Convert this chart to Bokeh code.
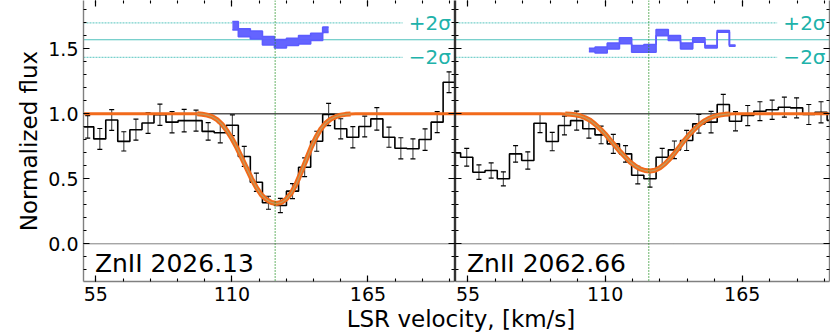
import numpy as np
from bokeh.plotting import figure
from bokeh.models import (ColumnDataSource, Span, Whisker, TeeHead, LinearAxis,
                          SingleIntervalTicker, Div, Range1d, NumeralTickFormatter)
from bokeh.layouts import row, column
from bokeh.core.properties import value
from bokeh.embed import file_html
from bokeh.resources import INLINE

FONT = "DejaVu Sans"

# ---------------- data ----------------
# Panel A : ZnII 2026.13  (bin centres, normalized flux, 1-sigma errors)
vel_a = [46.8, 51.7, 56.6, 61.4, 66.3, 71.2, 76.1, 80.9, 85.8, 90.7, 95.5,
         100.4, 105.3, 110.2, 115.0, 119.9, 124.8, 129.6, 134.5, 139.4, 144.3,
         149.1, 154.0, 158.9, 163.7, 168.6, 173.5, 178.3, 183.2, 188.1, 193.0,
         197.8, 202.7]
flux_a = [0.88, 0.90, 0.807, 0.952, 0.788, 0.878, 0.93, 0.993, 0.936, 0.948, 0.948,
          0.865, 0.854, 0.912, 0.672, 0.474, 0.316, 0.295, 0.405, 0.589, 0.789,
          0.995, 0.885, 0.820, 0.902, 0.961, 0.820, 0.735, 0.731, 0.802, 0.936,
          1.243, 1.24]
err_a = [0.08, 0.087, 0.08, 0.08, 0.074, 0.081, 0.08, 0.082, 0.082, 0.087, 0.081,
         0.068, 0.077, 0.08, 0.077, 0.07, 0.05, 0.055, 0.058, 0.072, 0.077,
         0.086, 0.077, 0.082, 0.08, 0.087, 0.077, 0.081, 0.077, 0.083, 0.081,
         0.08, 0.08]

# Panel B : ZnII 2062.66
vel_b = [49.6, 54.5, 59.4, 64.3, 69.2, 74.1, 79.0, 83.9, 88.8, 93.7, 98.6,
         103.5, 108.4, 113.3, 118.2, 123.1, 128.0, 132.9, 137.8, 142.7, 147.6,
         152.5, 157.4, 162.3, 167.2, 172.1, 177.0, 181.9, 186.8, 191.7, 196.6,
         201.5]
flux_b = [0.70, 0.666, 0.551, 0.564, 0.50, 0.692, 0.641, 0.928, 0.787, 0.91, 0.948,
          0.885, 0.838, 0.769, 0.692, 0.528, 0.50, 0.666, 0.723, 0.795, 0.923,
          0.936, 1.072, 0.943, 0.987, 1.02, 1.031, 1.051, 1.046, 0.995, 1.012,
          0.95]
err_b = [0.07, 0.069, 0.056, 0.058, 0.054, 0.064, 0.067, 0.073, 0.071, 0.072, 0.073,
         0.072, 0.068, 0.073, 0.064, 0.067, 0.064, 0.068, 0.068, 0.077, 0.072,
         0.083, 0.077, 0.074, 0.077, 0.073, 0.074, 0.077, 0.077, 0.077, 0.081,
         0.08]

# Fitted model profiles
mod_v_a = [50, 94, 96, 98, 100, 102, 104, 106, 108, 110, 112, 114, 116, 118, 120,
           122, 124, 126, 128, 130, 132, 134, 136, 138, 140, 142, 144, 146, 148,
           150, 152, 154, 156, 158, 160, 162, 200]
mod_f_a = [1.0, 1.0, 1.0, 0.997, 0.99, 0.978, 0.955, 0.92, 0.87, 0.81, 0.74, 0.66,
           0.58, 0.50, 0.43, 0.375, 0.34, 0.318, 0.31, 0.318, 0.345, 0.39, 0.46,
           0.55, 0.645, 0.74, 0.82, 0.885, 0.93, 0.96, 0.978, 0.99, 0.996, 0.999,
           1.0, 1.0, 1.0]
mod_v_b = [50, 92, 94, 96, 98, 100, 102, 104, 106, 108, 110, 112, 114, 116, 118,
           120, 122, 124, 126, 128, 130, 132, 134, 136, 138, 140, 142, 144, 146,
           148, 150, 152, 154, 156, 158, 160, 162, 164, 200]
mod_f_b = [1.0, 1.0, 0.999, 0.997, 0.993, 0.985, 0.97, 0.95, 0.92, 0.885, 0.845,
           0.80, 0.755, 0.71, 0.67, 0.63, 0.60, 0.577, 0.564, 0.56, 0.566, 0.585,
           0.615, 0.655, 0.70, 0.75, 0.80, 0.845, 0.885, 0.92, 0.948, 0.968,
           0.982, 0.991, 0.996, 0.999, 1.0, 1.0, 1.0]

# Residuals (shown offset around RES_ZERO)
res_v_a = [110.2, 115.0, 119.9, 124.8, 129.6, 134.5, 139.4, 144.3, 149.1]
res_a = [1.678, 1.624, 1.606, 1.562, 1.539, 1.554, 1.570, 1.592, 1.647]
res_w_a = [0.032, 0.03, 0.03, 0.032, 0.032, 0.028, 0.032, 0.028, 0.02]
res_v_b = [103.5, 108.4, 113.3, 118.2, 123.1, 128.0, 132.9, 137.8, 142.7, 147.6,
           152.5, 157.4, 162.3]
res_b = [1.492, 1.491, 1.522, 1.562, 1.500, 1.504, 1.625, 1.583, 1.522, 1.568,
         1.516, 1.635, 1.525]
res_w_b = [0.013, 0.022, 0.022, 0.023, 0.026, 0.03, 0.023, 0.019, 0.022, 0.017,
           0.009, 0.006, 0.005]

RES_ZERO = 1.57
RES_PLUS = 1.70
RES_MINUS = 1.435
SIG_LINE_END = 179.0
SIG_TEXT_X = 181.5
V_SYS = 127.5
X_RANGE = (50, 200)
Y_RANGE = (-0.29, 1.872)
labels = ["ZnII 2026.13", "ZnII 2062.66"]
LABEL_X = 54.6
LABEL_Y = -0.152
sigma_texts = ["+2σ", "−2σ"]

# ---------------- styling ----------------
ORANGE = "#f26a1b"
TAN = "#c09a5e"
TEAL = "#20b2aa"
BLUE = "#5c5cff"
FIG_H = 308


def make_axis(show_labels, line_color, axis_label=None):
    ax = LinearAxis(major_tick_in=6, major_tick_out=0, minor_tick_in=3, minor_tick_out=0,
                    major_tick_line_color="black", minor_tick_line_color="black",
                    major_tick_line_width=1.2, minor_tick_line_width=1.1,
                    axis_line_color=line_color, axis_line_width=1.4)
    if show_labels:
        ax.major_label_text_font = FONT
        ax.major_label_text_font_size = "19px"
        ax.major_label_text_color = "black"
        ax.major_label_standoff = 5
    else:
        ax.major_label_text_font_size = "0px"
        ax.major_label_text_color = None
        ax.major_label_standoff = 0
    if axis_label:
        ax.axis_label = axis_label
        ax.axis_label_text_font = FONT
        ax.axis_label_text_font_size = "23px"
        ax.axis_label_text_font_style = "normal"
        ax.axis_label_text_color = "black"
        ax.axis_label_standoff = 3
    return ax


def make_panel(width, left_border, right_border, first, vel, flux, err, mv, mf,
               rv, rr, rw, label):
    p = figure(width=width, height=FIG_H, x_range=Range1d(*X_RANGE),
               y_range=Range1d(*Y_RANGE), output_backend="svg", toolbar_location=None,
               x_axis_location=None, y_axis_location=None,
               min_border_left=left_border, min_border_right=right_border,
               min_border_top=0, min_border_bottom=27)
    p.outline_line_color = None
    p.background_fill_color = "white"
    p.border_fill_color = "white"
    p.grid.visible = False

    # axes
    bx = make_axis(True, "#808080")
    bx.ticker = SingleIntervalTicker(interval=55, num_minor_ticks=5)
    p.add_layout(bx, "below")
    tx = make_axis(False, None)
    tx.ticker = SingleIntervalTicker(interval=55, num_minor_ticks=5)
    p.add_layout(tx, "above")
    if first:
        ly = make_axis(True, "#808080", "Normalized flux")
        ly.formatter = NumeralTickFormatter(format="0.0")
        ry = make_axis(False, "#333333")
    else:
        ly = make_axis(False, "#333333")
        ry = make_axis(False, "#808080")
    ly.ticker = SingleIntervalTicker(interval=0.5, num_minor_ticks=5)
    ry.ticker = SingleIntervalTicker(interval=0.5, num_minor_ticks=5)
    p.add_layout(ly, "left")
    p.add_layout(ry, "right")

    # reference lines
    p.add_layout(Span(location=1.0, dimension="width", line_color="#555555",
                      line_width=1.5, level="underlay"))
    p.add_layout(Span(location=0.0, dimension="width", line_color="#000000",
                      line_width=1, line_dash="1 1", level="underlay"))
    p.add_layout(Span(location=RES_ZERO, dimension="width", line_color=TEAL,
                      line_alpha=0.8, line_width=1.2, level="underlay"))
    for lvl in (RES_PLUS, RES_MINUS):
        p.line([X_RANGE[0], SIG_LINE_END], [lvl, lvl], line_color=TEAL, line_alpha=0.6,
               line_width=1.2, line_dash="2 1")
    p.add_layout(Span(location=V_SYS, dimension="height", line_color="#1a8c1a",
                      line_width=1.3, line_dash="1 2"))

    # residual band
    rr = np.array(rr)
    rw = np.array(rw)
    p.varea_step(x=rv, y1=rr - rw, y2=rr + rw, step_mode="center",
                 fill_color=BLUE, fill_alpha=0.95)
    p.step(rv, rr - rw, mode="center", line_color=BLUE, line_width=1.6)
    p.step(rv, rr + rw, mode="center", line_color=BLUE, line_width=1.6)

    # error bars (only those inside the panel)
    vel = np.array(vel)
    flux = np.array(flux)
    err = np.array(err)
    inside = (vel > X_RANGE[0]) & (vel < X_RANGE[1])
    esrc = ColumnDataSource(dict(v=vel[inside], lo=(flux - err)[inside],
                                 hi=(flux + err)[inside]))
    p.add_layout(Whisker(source=esrc, base="v", lower="lo", upper="hi",
                         dimension="height", line_color="#555555", line_width=1.2,
                         upper_head=TeeHead(size=5, line_color="black", line_width=1.2),
                         lower_head=TeeHead(size=5, line_color="black", line_width=1.2)))
    # spectrum histogram
    p.step(vel, flux, mode="center", line_color="black", line_width=1.6)

    # model profile
    mv = np.array(mv)
    mf = np.array(mf)
    p.line(mv, mf, line_color=ORANGE, line_width=3)
    dip = mf < 0.999
    dip = dip | np.roll(dip, 1) | np.roll(dip, -1)
    p.line(mv[dip], mf[dip], line_color=ORANGE, line_width=5)
    p.line(mv[dip], mf[dip], line_color=TAN, line_width=1.3)

    # texts
    p.text(x=[SIG_TEXT_X, SIG_TEXT_X], y=[RES_PLUS, RES_MINUS], text=sigma_texts,
           text_color=TEAL, text_font=value(FONT), text_font_size=value("20px"),
           text_align="left", text_baseline="middle")
    p.text(x=[LABEL_X], y=[LABEL_Y], text=[label], text_color="black",
           text_font=value(FONT), text_font_size=value("25px"),
           text_align="left", text_baseline="middle")
    return p


p1 = make_panel(455, 83, 1, True, vel_a, flux_a, err_a, mod_v_a, mod_f_a,
                res_v_a, res_a, res_w_a, labels[0])
p2 = make_panel(375, 0, 1, False, vel_b, flux_b, err_b, mod_v_b, mod_f_b,
                res_v_b, res_b, res_w_b, labels[1])

xlabel = Div(text=('<div style="width:746px;margin-left:83px;text-align:center;'
                   'font-family:\'DejaVu Sans\';font-size:23px;line-height:21px;'
                   'position:relative;top:-4px;'
                   'white-space:nowrap;color:black">LSR velocity, [km/s]</div>'),
             width=830, height=24)

layout = column(row(p1, p2), xlabel)
open("out.html", "w").write(file_html(layout, INLINE))
